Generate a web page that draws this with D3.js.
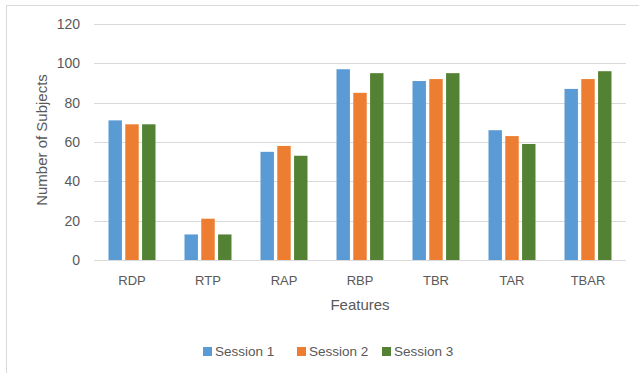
<!DOCTYPE html>
<html><head><meta charset="utf-8">
<script src="https://cdn.jsdelivr.net/npm/d3@7"></script>
<style>body{margin:0;background:#fff}svg{display:block}text{font-family:"Liberation Sans",Arial,sans-serif;fill:#595959}</style>
</head><body>
<script>
const categories = ["RDP","RTP","RAP","RBP","TBR","TAR","TBAR"];
const seriesNames = ["Session 1","Session 2","Session 3"];
const session1 = [71,13,55,97,91,66,87];
const session2 = [69,21,58,85,92,63,92];
const session3 = [69,13,53,95,95,59,96];
const yTicks = [0,20,40,60,80,100,120];
const colors = ["#5B9BD5","#ED7D31","#548235"];
const series = [session1, session2, session3];

const W = 639, H = 373;
const svg = d3.select("body").append("svg").attr("width",W).attr("height",H);
svg.append("rect").attr("x",6.5).attr("y",5.5).attr("width",W).attr("height",H)
  .attr("fill","#fff").attr("stroke","#d9d9d9");

const x0 = d3.scaleBand().domain(categories).range([94,626]).paddingInner(0).paddingOuter(0);
const y = d3.scaleLinear().domain([0,120]).range([260,24]);
const groupW = 47;
const x1 = d3.scaleBand().domain(seriesNames).range([0,groupW]).paddingInner(0.2).paddingOuter(0);

svg.append("g").selectAll("line").data(yTicks).join("line")
  .attr("x1",94).attr("x2",626).attr("y1",d=>Math.round(y(d))+0.5).attr("y2",d=>Math.round(y(d))+0.5)
  .attr("stroke","#d9d9d9").attr("stroke-width",1);

svg.append("g").selectAll("text").data(yTicks).join("text")
  .attr("x",80).attr("y",d=>y(d)).attr("dy","0.35em").attr("text-anchor","end")
  .attr("font-size",14).text(d=>d);

const g = svg.append("g");
categories.forEach((c,i)=>{
  const gx = x0(c) + x0.bandwidth()/2 - groupW/2;
  seriesNames.forEach((s,j)=>{
    const v = series[j][i];
    g.append("rect").attr("x",gx + x1(s)).attr("width",x1.bandwidth())
      .attr("y",y(v)).attr("height",y(0)-y(v)).attr("fill",colors[j]);
  });
});

svg.append("g").selectAll("text").data(categories).join("text")
  .attr("x",d=>x0(d)+x0.bandwidth()/2).attr("y",280).attr("dy","0.35em")
  .attr("text-anchor","middle").attr("font-size",13).text(d=>d);

svg.append("text").attr("x",360).attr("y",305).attr("dy","0.35em").attr("text-anchor","middle")
  .attr("font-size",15).text("Features");

svg.append("text").attr("transform","translate(42,140) rotate(-90)").attr("dy","0.35em")
  .attr("text-anchor","middle").attr("font-size",15).text("Number of Subjects");

const legX = [203,297,382];
const leg = svg.append("g");
seriesNames.forEach((s,j)=>{
  leg.append("rect").attr("x",legX[j]).attr("y",347).attr("width",9).attr("height",9).attr("fill",colors[j]);
  leg.append("text").attr("x",legX[j]+12).attr("y",351.5).attr("dy","0.35em").attr("font-size",13.5).text(s);
});
</script>
</body></html>
